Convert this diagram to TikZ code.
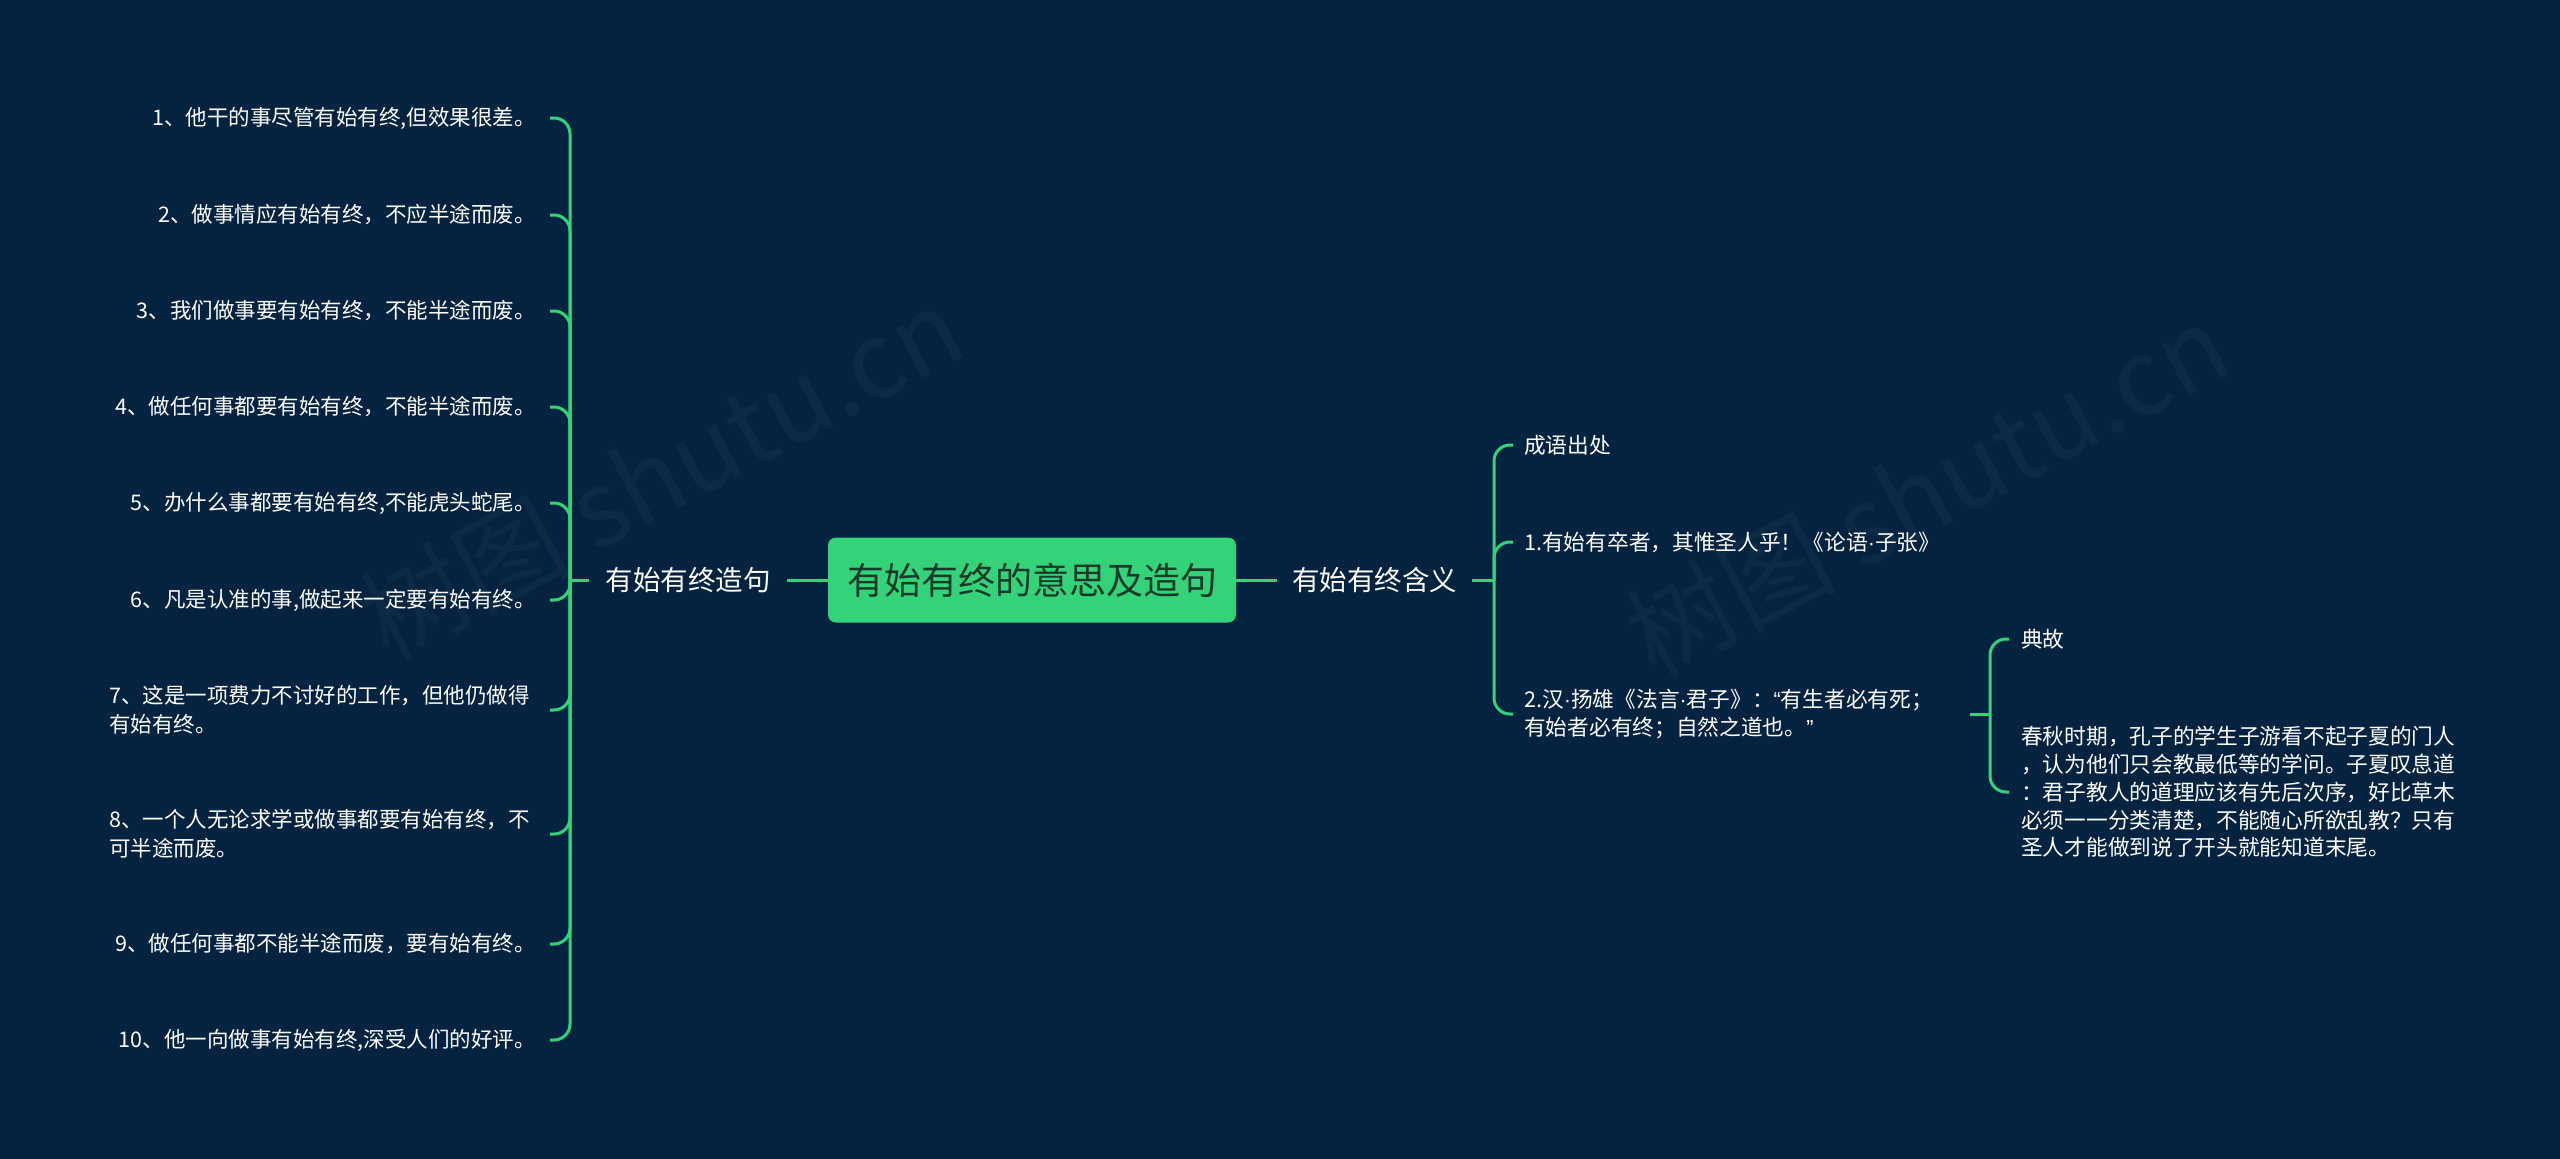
\documentclass[tikz,border=0pt]{standalone}
\usepackage{fontspec}
\setmainfont{Noto Sans CJK SC}
\newfontfamily\latn{Liberation Sans}
\newcommand{\mdot}{{\latn ·}}
\definecolor{bg}{RGB}{4,35,64}
\definecolor{gr}{RGB}{52,211,122}
\definecolor{rootText}{RGB}{22,58,42}
\begin{document}
\begin{tikzpicture}[x=1pt,y=-1pt,
  conn/.style={draw=gr,line width=3pt},
  hook/.style={conn,rounded corners=16pt},
  itemL/.style={anchor=east,align=left,text=white,font=\fontsize{21.5pt}{29pt}\selectfont,inner xsep=14pt,inner ysep=2pt},
  itemR/.style={anchor=west,align=left,text=white,font=\fontsize{21.7pt}{28pt}\selectfont,inner xsep=11pt,inner ysep=2pt},
  itemRR/.style={anchor=west,align=left,text=white,font=\fontsize{21.7pt}{27.8pt}\selectfont,inner xsep=12pt,inner ysep=2pt},
  lvlone/.style={text=white,font=\fontsize{27.5pt}{33pt}\selectfont,inner ysep=2pt},
  rootbox/.style={fill=gr,rounded corners=8pt,minimum width=408pt,minimum height=85pt,text=rootText,font=\fontsize{37pt}{41pt}\selectfont},
  wm/.style={text=white,text opacity=0.035,font=\fontsize{105pt}{110pt}\selectfont}
]
\useasboundingbox (0,0) rectangle (2560,1159);
\fill[bg] (0,0) rectangle (2560,1159);
% watermarks
\node[wm,rotate=28] (wmA) at (661,473) {树图 shutu.cn};
\node[wm,rotate=28] (wmB) at (1927,490) {树图 shutu.cn};

% root
\node[rootbox] (root) at (1032,580) {有始有终的意思及造句};

% level one
\node[lvlone,inner xsep=16.5pt] (L) at (688,580) {有始有终造句};
\node[lvlone,inner xsep=15pt] (R) at (1374.5,580) {有始有终含义};
\coordinate (lb) at (570,580);
\coordinate (rb) at (1494,580);
\draw[conn] (root.west) -- (L.east);
\draw[conn] (L.west) -- (lb);
\draw[conn] (root.east) -- (R.west);
\draw[conn] (R.east) -- (rb);

% left items
\node[itemL] (i1) at (550,118) {1、他干的事尽管有始有终,但效果很差。};
\node[itemL] (i2) at (550,215) {2、做事情应有始有终，不应半途而废。};
\node[itemL] (i3) at (550,311) {3、我们做事要有始有终，不能半途而废。};
\node[itemL] (i4) at (550,407) {4、做任何事都要有始有终，不能半途而废。};
\node[itemL] (i5) at (550,503) {5、办什么事都要有始有终,不能虎头蛇尾。};
\node[itemL] (i6) at (550,600) {6、凡是认准的事,做起来一定要有始有终。};
\node[itemL,inner xsep=20pt] (i7) at (550,710) {7、这是一项费力不讨好的工作，但他仍做得\\有始有终。};
\node[itemL,inner xsep=20pt] (i8) at (550,834) {8、一个人无论求学或做事都要有始有终，不\\可半途而废。};
\node[itemL] (i9) at (550,944) {9、做任何事都不能半途而废，要有始有终。};
\node[itemL] (i10) at (550,1040) {10、他一向做事有始有终,深受人们的好评。};
\foreach \n in {i1,i2,i3,i4,i5,i6,i7,i8,i9,i10}
  \draw[hook] (lb) |- (\n.east);

% right items
\node[itemR] (c1) at (1513,445) {成语出处};
\node[itemR] (c2) at (1513,542) {1.有始有卒者，其惟圣人乎！《论语\mdot 子张》};
\node[itemR,text width=410pt] (c3) at (1513,714) {2.汉\mdot 扬雄《法言\mdot 君子》：{\latn “}有生者必有死；\\有始者必有终；自然之道也。{\latn ”}};
\foreach \n in {c1,c2,c3}
  \draw[hook] (rb) |- (\n.west);

% story
\coordinate (sb) at (1990,714);
\draw[conn] ([xshift=25pt]c3.east) -- (sb);
\node[itemRR] (d1) at (2009,639) {典故};
\node[itemRR] (d2) at (2009,792) {春秋时期，孔子的学生子游看不起子夏的门人\\，认为他们只会教最低等的学问。子夏叹息道\\：君子教人的道理应该有先后次序，好比草木\\必须一一分类清楚，不能随心所欲乱教？只有\\圣人才能做到说了开头就能知道末尾。};
\foreach \n in {d1,d2}
  \draw[hook] (sb) |- (\n.west);
\end{tikzpicture}
\end{document}
